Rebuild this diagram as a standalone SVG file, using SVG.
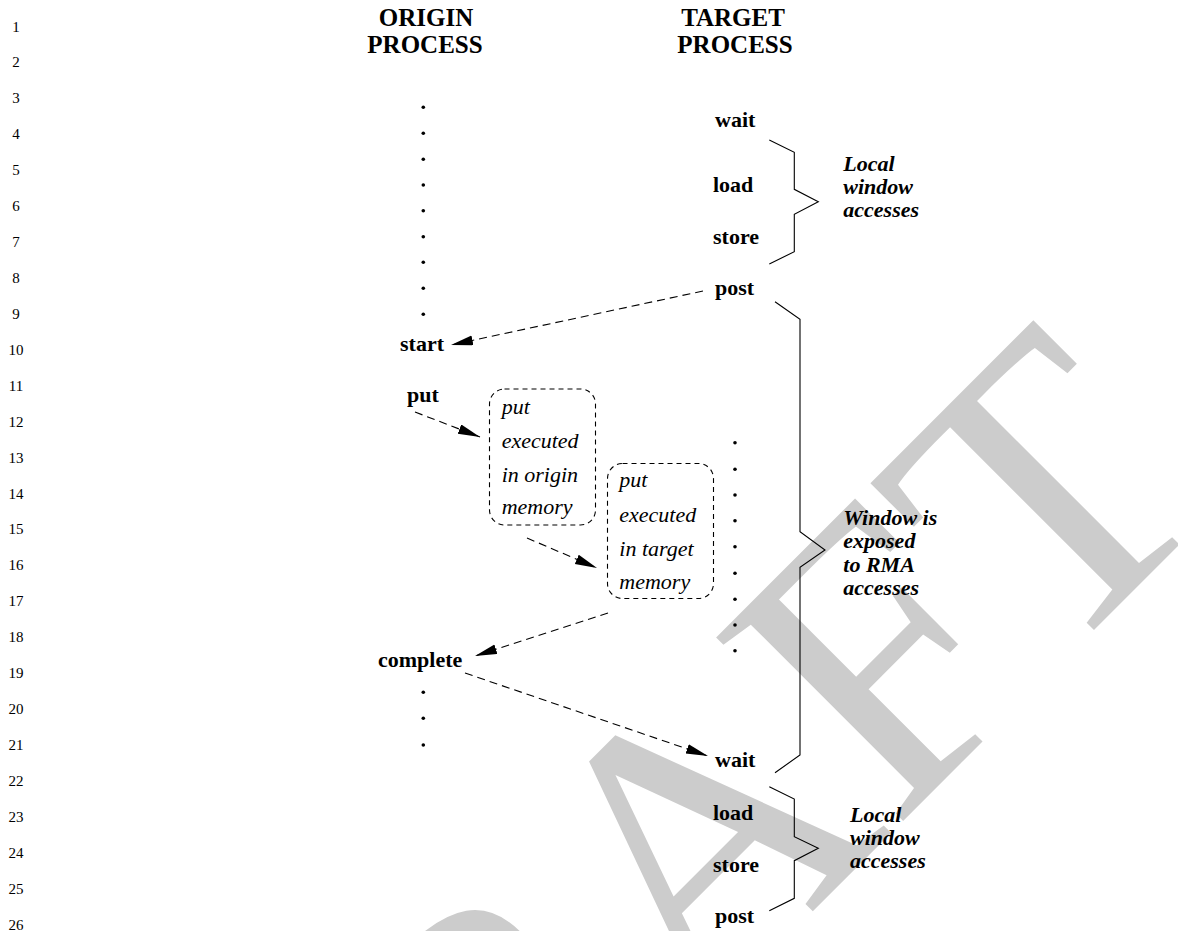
<svg xmlns="http://www.w3.org/2000/svg" width="1178" height="931" viewBox="0 0 1178 931">
<style>
text { font-family: "Liberation Serif", "Times New Roman", serif; fill: #000; }
.wm { font-size: 400px; fill: #cccccc; }
.ln { font-size: 15px; text-anchor: middle; }
.hdr { font-size: 25px; font-weight: bold; text-anchor: middle; }
.lbl { font-size: 22px; font-weight: bold; }
.note { font-size: 22px; font-weight: bold; font-style: italic; }
.btxt { font-size: 22px; font-style: italic; }
.dash { fill: none; stroke: #000; stroke-width: 1.1; stroke-dasharray: 8 5; }
.box { fill: none; stroke: #000; stroke-width: 1.1; stroke-dasharray: 5 4; }
.brace { fill: none; stroke: #000; stroke-width: 1.1; }
.dot { fill: #000; }
</style>
<defs>
<marker id="ah" markerUnits="userSpaceOnUse" markerWidth="24" markerHeight="12" refX="22" refY="5" orient="auto">
<path d="M0,0 L22,5 L0,10 z" fill="#000" stroke="none"/>
</marker>
</defs>
<rect width="1178" height="931" fill="#fff"/>
<text class="wm" transform="translate(296,1428) rotate(-45)">DRAFT</text>
<g id="line-numbers">
<text class="ln" x="16" y="31.5">1</text>
<text class="ln" x="16" y="67.4">2</text>
<text class="ln" x="16" y="103.3">3</text>
<text class="ln" x="16" y="139.3">4</text>
<text class="ln" x="16" y="175.2">5</text>
<text class="ln" x="16" y="211.1">6</text>
<text class="ln" x="16" y="247">7</text>
<text class="ln" x="16" y="282.9">8</text>
<text class="ln" x="16" y="318.9">9</text>
<text class="ln" x="16" y="354.8">10</text>
<text class="ln" x="16" y="390.7">11</text>
<text class="ln" x="16" y="426.6">12</text>
<text class="ln" x="16" y="462.5">13</text>
<text class="ln" x="16" y="498.5">14</text>
<text class="ln" x="16" y="534.4">15</text>
<text class="ln" x="16" y="570.3">16</text>
<text class="ln" x="16" y="606.2">17</text>
<text class="ln" x="16" y="642.1">18</text>
<text class="ln" x="16" y="678.1">19</text>
<text class="ln" x="16" y="714">20</text>
<text class="ln" x="16" y="749.9">21</text>
<text class="ln" x="16" y="785.8">22</text>
<text class="ln" x="16" y="821.7">23</text>
<text class="ln" x="16" y="857.7">24</text>
<text class="ln" x="16" y="893.6">25</text>
<text class="ln" x="16" y="929.5">26</text>
</g>
<g id="hdr-origin"><text class="hdr" x="426" y="26">ORIGIN</text><text class="hdr" x="425" y="53">PROCESS</text></g>
<g id="hdr-target"><text class="hdr" x="733" y="26">TARGET</text><text class="hdr" x="735" y="53">PROCESS</text></g>
<g id="origin-dots-top">
<circle class="dot" cx="423.3" cy="107.3" r="1.8"/>
<circle class="dot" cx="423.3" cy="133.3" r="1.8"/>
<circle class="dot" cx="423.3" cy="159.3" r="1.8"/>
<circle class="dot" cx="423.3" cy="185" r="1.8"/>
<circle class="dot" cx="423.3" cy="210.7" r="1.8"/>
<circle class="dot" cx="423.3" cy="236.7" r="1.8"/>
<circle class="dot" cx="423.3" cy="262.3" r="1.8"/>
<circle class="dot" cx="423.3" cy="288.3" r="1.8"/>
<circle class="dot" cx="423.3" cy="314.3" r="1.8"/>
</g>
<g id="t-wait1"><text class="lbl" x="715" y="127">wait</text></g>
<g id="t-load1"><text class="lbl" x="713" y="192">load</text></g>
<g id="t-store1"><text class="lbl" x="713" y="243.5">store</text></g>
<g id="t-post1"><text class="lbl" x="715" y="294.5">post</text></g>
<g id="o-start"><text class="lbl" x="400" y="351">start</text></g>
<g id="o-put"><text class="lbl" x="407" y="402">put</text></g>
<g id="box-origin">
<rect class="box" x="489.5" y="389" width="106" height="136" rx="15" ry="15"/>
<text class="btxt" x="501.7" y="413.5">put</text>
<text class="btxt" x="501.7" y="447.7">executed</text>
<text class="btxt" x="501.7" y="482">in origin</text>
<text class="btxt" x="501.7" y="514">memory</text>
</g>
<g id="box-target">
<rect class="box" x="607.5" y="463.5" width="106" height="135" rx="15" ry="15"/>
<text class="btxt" x="619.3" y="487">put</text>
<text class="btxt" x="619.3" y="521.7">executed</text>
<text class="btxt" x="619.3" y="555.5">in target</text>
<text class="btxt" x="619.3" y="588.5">memory</text>
</g>
<g id="target-dots">
<circle class="dot" cx="735" cy="442.7" r="1.8"/>
<circle class="dot" cx="735" cy="469.3" r="1.8"/>
<circle class="dot" cx="735" cy="495" r="1.8"/>
<circle class="dot" cx="735" cy="520.7" r="1.8"/>
<circle class="dot" cx="735" cy="546.7" r="1.8"/>
<circle class="dot" cx="735" cy="573.3" r="1.8"/>
<circle class="dot" cx="735" cy="599.3" r="1.8"/>
<circle class="dot" cx="735" cy="625" r="1.8"/>
<circle class="dot" cx="735" cy="650.7" r="1.8"/>
</g>
<g id="o-complete"><text class="lbl" x="378" y="667">complete</text></g>
<g id="origin-dots-bottom">
<circle class="dot" cx="423.3" cy="692.3" r="1.8"/>
<circle class="dot" cx="423.3" cy="718.3" r="1.8"/>
<circle class="dot" cx="423.3" cy="745" r="1.8"/>
</g>
<g id="t-wait2"><text class="lbl" x="715" y="767">wait</text></g>
<g id="t-load2"><text class="lbl" x="713" y="820">load</text></g>
<g id="t-store2"><text class="lbl" x="713" y="872">store</text></g>
<g id="t-post2"><text class="lbl" x="715" y="922.5">post</text></g>
<g id="brace-local1">
<polyline class="brace" points="769.3,140 794.3,152.3 794.3,189.3 818.3,201.7 794.3,214.3 794.3,251.7 769.3,264"/>
<text class="note" x="843.3" y="171">Local</text>
<text class="note" x="843.3" y="194">window</text>
<text class="note" x="843.3" y="217">accesses</text>
</g>
<g id="brace-rma">
<polyline class="brace" points="775,301.7 800,319.3 800,531.7 825,550 800,567.3 800,755 775,772.7"/>
<text class="note" x="843.3" y="525">Window is</text>
<text class="note" x="843.3" y="548">exposed</text>
<text class="note" x="843.3" y="572">to RMA</text>
<text class="note" x="843.3" y="595">accesses</text>
</g>
<g id="brace-local2">
<polyline class="brace" points="769.3,786.7 794.3,799 794.3,836.7 818.3,848.3 794.3,860.7 794.3,898.3 769.3,910.7"/>
<text class="note" x="850" y="822">Local</text>
<text class="note" x="850" y="845">window</text>
<text class="note" x="850" y="868">accesses</text>
</g>
<g id="connectors">
<line class="dash" x1="703" y1="291" x2="451" y2="345" marker-end="url(#ah)"/>
<line class="dash" x1="415" y1="412" x2="480" y2="437" marker-end="url(#ah)"/>
<line class="dash" x1="527" y1="538" x2="597" y2="568" marker-end="url(#ah)"/>
<line class="dash" x1="608" y1="613" x2="475" y2="656" marker-end="url(#ah)"/>
<line class="dash" x1="465" y1="673" x2="708" y2="756" marker-end="url(#ah)"/>
</g>
</svg>
